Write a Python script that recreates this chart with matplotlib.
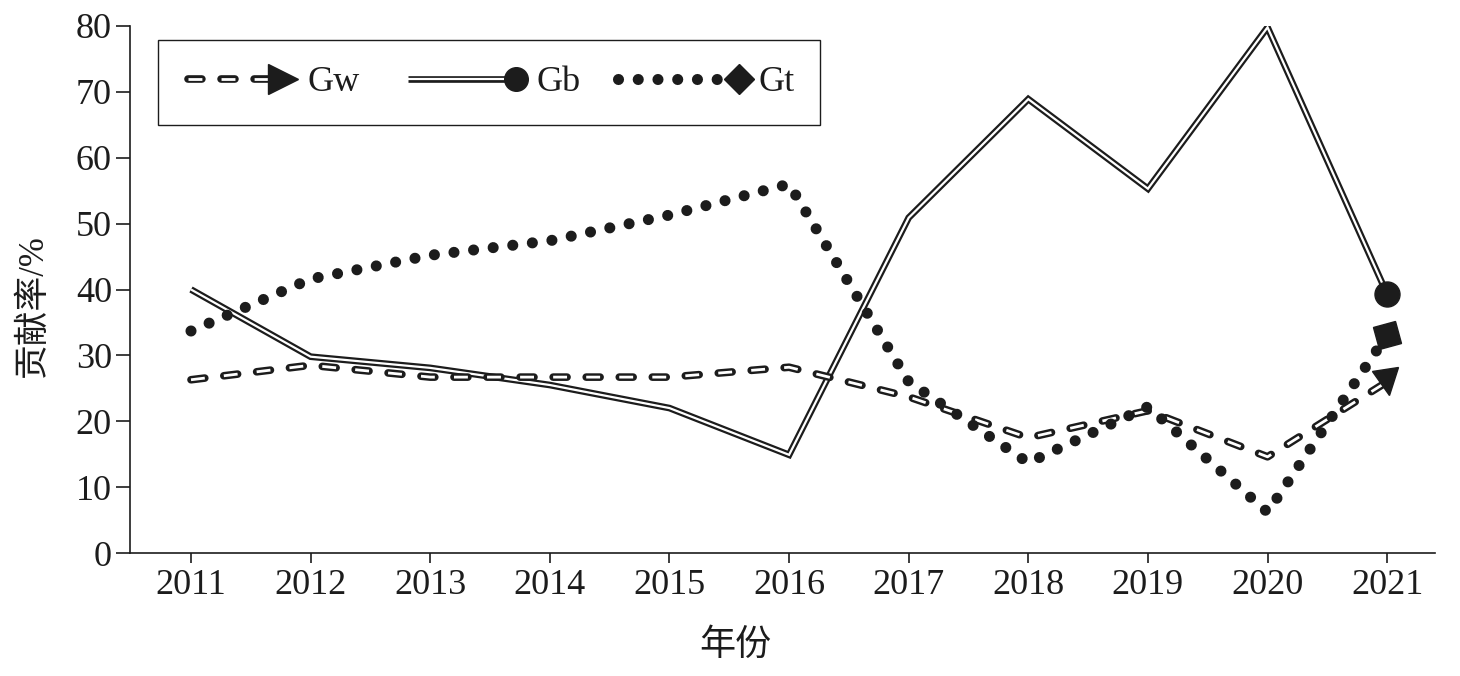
import matplotlib
matplotlib.use('Agg')
import matplotlib.pyplot as plt
from matplotlib.lines import Line2D
from matplotlib.legend_handler import HandlerBase
from matplotlib.markers import MarkerStyle
from matplotlib.transforms import Affine2D

plt.rcParams['lines.scale_dashes'] = False
plt.rcParams['font.family'] = ['Liberation Serif', 'Noto Sans CJK SC', 'DejaVu Sans']

# ---- data ----
years = [2011, 2012, 2013, 2014, 2015, 2016, 2017, 2018, 2019, 2020, 2021]
gw = [26.3, 28.5, 26.7, 26.7, 26.7, 28.2, 23.7, 17.5, 21.6, 14.6, 26.0]
gb = [40.0, 29.8, 28.1, 25.5, 22.0, 14.9, 50.9, 68.9, 55.3, 79.8, 39.3]
gt = [33.7, 41.6, 45.2, 47.4, 51.3, 56.0, 26.0, 13.7, 22.2, 6.2, 33.1]
series_labels = ['Gw', 'Gb', 'Gt']
y_ticks = [0, 10, 20, 30, 40, 50, 60, 70, 80]
x_label = '年份'
y_label = '贡献率/%'

K = '#1c1c1c'
FS = 26

# ---- styles ----
gw_layers = [dict(color=K, lw=5.5, dashes=(10, 13.8), dash_capstyle='round'),
             dict(color='white', lw=2.0, dashes=(10, 13.8), dash_capstyle='butt')]
gb_layers = [dict(color=K, lw=4.8, solid_joinstyle='miter', solid_capstyle='butt'),
             dict(color='white', lw=1.6, solid_joinstyle='miter', solid_capstyle='butt')]
gt_layers = [dict(color=K, lw=8.0, dashes=(0.01, 14.2), dash_capstyle='round')]

fig = plt.figure(figsize=(14.6, 6.76), dpi=100)
ax = fig.add_axes([130 / 1460, 1 - 553 / 676, 1305 / 1460, 527 / 676])

handles = []
for data, layers, z in [(gb, gb_layers, 2), (gw, gw_layers, 3), (gt, gt_layers, 4)]:
    first = None
    for i, kw in enumerate(layers):
        ln, = ax.plot(years, data, zorder=z + 0.1 * i, **kw)
        if first is None:
            first = ln
    handles.append(first)

# end markers
tri = MarkerStyle('v', transform=Affine2D().rotate_deg(10))
sq = MarkerStyle('s', transform=Affine2D().rotate_deg(15))
ax.plot([years[-1]], [gb[-1]], linestyle='none', marker='o', ms=18, color=K, zorder=5)
ax.plot([years[-1]], [gw[-1]], linestyle='none', marker=tri, ms=19, color=K, zorder=5)
ax.plot([years[-1]], [gt[-1]], linestyle='none', marker=sq, ms=16, color=K, zorder=5)

ax.set_xlim(2010.49, 2021.40)
ax.set_ylim(0, 80)
ax.set_xticks(years)
ax.set_xticklabels([str(y) for y in years])
ax.set_yticks(y_ticks)
ax.set_yticklabels([str(v) for v in y_ticks])
for s in ['top', 'right']:
    ax.spines[s].set_visible(False)
for s in ['left', 'bottom']:
    ax.spines[s].set_linewidth(1.2)
    ax.spines[s].set_color(K)
ax.tick_params(axis='y', length=10, width=1.2, pad=3, labelsize=FS, colors=K)
ax.tick_params(axis='x', length=7.5, width=1.2, pad=4, labelsize=FS, colors=K)

ax.set_ylabel(y_label, family=['Liberation Serif', 'Noto Sans CJK SC'], fontsize=25, color=K)
ax.yaxis.set_label_coords(-0.0613, 0.47)
ax.set_xlabel(x_label, family=['Noto Sans CJK SC'], fontsize=26, color=K)
ax.xaxis.set_label_coords(0.4636, -0.14)


class EndHandler(HandlerBase):
    def __init__(self, layers, marker, ms, start=0.0):
        super().__init__()
        self.layers = layers
        self.marker = marker
        self.ms = ms
        self.start = start

    def create_artists(self, legend, orig_handle, xdescent, ydescent,
                       width, height, fontsize, trans):
        y = height / 2 - ydescent
        x0 = -xdescent + self.start
        x1 = -xdescent + width
        xm = x1 - self.ms / 2
        arts = []
        for kw in self.layers:
            l = Line2D([x0, xm], [y, y], **kw)
            l.set_transform(trans)
            arts.append(l)
        m = Line2D([xm], [y], linestyle='none', marker=self.marker,
                   ms=self.ms, color=K)
        m.set_transform(trans)
        arts.append(m)
        return arts


hmap = {
    handles[1]: EndHandler(gw_layers, '>', 22, start=3),
    handles[0]: EndHandler(gb_layers, 'o', 17, start=-4),
    handles[2]: EndHandler(gt_layers, 'D', 15, start=-12),
}
leg = ax.legend([handles[1], handles[0], handles[2]], series_labels,
                handler_map=hmap, loc='upper left',
                bbox_to_anchor=(0.0215, 0.9734), borderaxespad=0,
                ncol=3, fontsize=FS, handlelength=3.16, handletextpad=0.25,
                columnspacing=1.5, borderpad=0.72, fancybox=False,
                frameon=True, edgecolor=K, framealpha=1)
leg.get_frame().set_linewidth(1.0)
for t in leg.get_texts():
    t.set_color(K)

fig.savefig('out.png', dpi=100)
